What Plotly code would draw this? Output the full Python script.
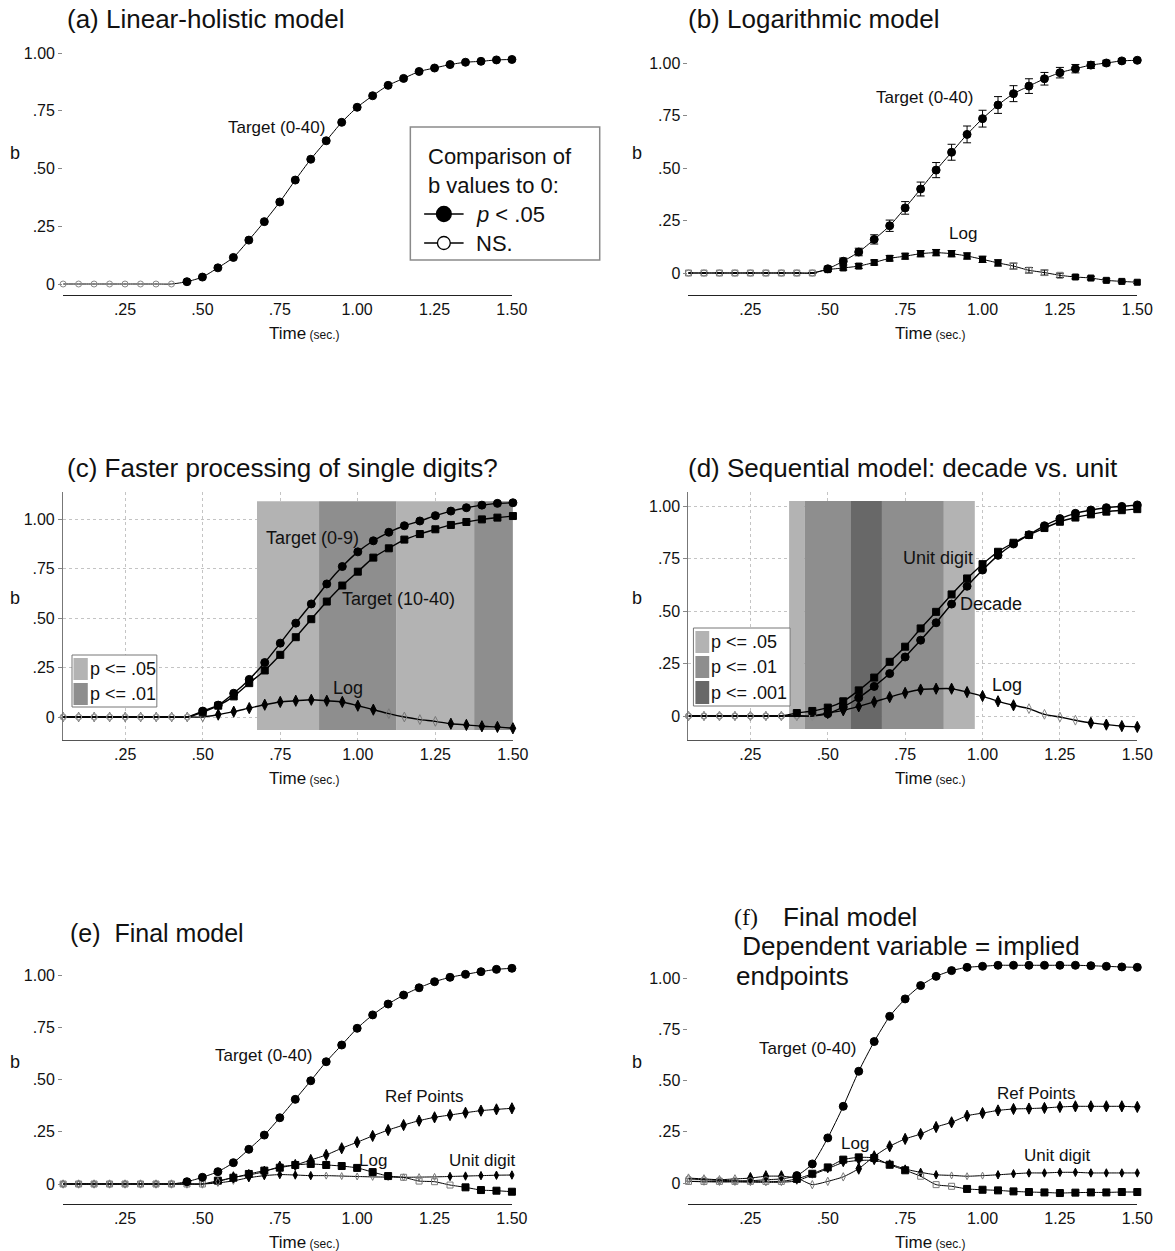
import plotly.graph_objects as go

W, H = 1175, 1251
FONT = "Liberation Sans, Arial, sans-serif"

# ---------------- data ----------------
TIME = [0.05, 0.10, 0.15, 0.20, 0.25, 0.30, 0.35, 0.40, 0.45, 0.50,
        0.55, 0.60, 0.65, 0.70, 0.75, 0.80, 0.85, 0.90, 0.95, 1.00,
        1.05, 1.10, 1.15, 1.20, 1.25, 1.30, 1.35, 1.40, 1.45, 1.50]
X_TICKS = [0.25, 0.50, 0.75, 1.00, 1.25, 1.50]
X_TICK_TEXT = [".25", ".50", ".75", "1.00", "1.25", "1.50"]
Y_TICKS = [0, 0.25, 0.50, 0.75, 1.00]
Y_TICK_TEXT = ["0", ".25", ".50", ".75", "1.00"]

# (a) Linear-holistic model
a_target = [0, 0, 0, 0, 0, 0, 0, 0, 0.01, 0.03, 0.07, 0.115, 0.19, 0.27, 0.355,
            0.45, 0.54, 0.62, 0.70, 0.765, 0.815, 0.86, 0.89, 0.92, 0.935, 0.95,
            0.96, 0.964, 0.97, 0.972]
a_target_sig = "000000001111111111111111111111"

# (b) Logarithmic model
b_target = [0, 0, 0, 0, 0, 0, 0, 0, 0, 0.02, 0.056, 0.10, 0.16, 0.225, 0.31, 0.40,
            0.49, 0.575, 0.66, 0.735, 0.80, 0.854, 0.89, 0.925, 0.954, 0.973, 0.99,
            1.0, 1.01, 1.013]
b_target_err = [0, 0, 0, 0, 0, 0, 0, 0, 0, 0.012, 0.015, 0.018, 0.022, 0.027, 0.03,
                0.033, 0.036, 0.038, 0.04, 0.04, 0.04, 0.038, 0.035, 0.03, 0.025,
                0.02, 0.016, 0.013, 0.01, 0.008]
b_target_sig = "000000000111111111111111111111"
b_log = [0, 0, 0, 0, 0, 0, 0, 0, 0, 0.016, 0.024, 0.033, 0.05, 0.07, 0.08, 0.092,
         0.097, 0.092, 0.081, 0.065, 0.048, 0.033, 0.013, 0.002, -0.011, -0.019,
         -0.024, -0.035, -0.04, -0.044]
b_log_err = [0, 0, 0, 0, 0, 0, 0, 0, 0, 0.008, 0.01, 0.012, 0.012, 0.013, 0.014,
             0.015, 0.015, 0.015, 0.015, 0.015, 0.015, 0.014, 0.013, 0.012, 0.01,
             0.009, 0.008, 0.007, 0.006, 0.006]
b_log_sig = "000000000111111111111000011111"

# (c) Faster processing of single digits?
c_t09 = [0, 0, 0, 0, 0, 0, 0, 0, 0, 0.03, 0.06, 0.12, 0.19, 0.275, 0.373, 0.474,
         0.571, 0.672, 0.76, 0.834, 0.89, 0.933, 0.966, 0.99, 1.017, 1.04, 1.057,
         1.07, 1.079, 1.082]
c_t09_sig = "000000000111111111111111111111"
c_t1040 = [0, 0, 0, 0, 0, 0, 0, 0, 0, 0.024, 0.057, 0.104, 0.171, 0.235, 0.314,
           0.403, 0.494, 0.583, 0.664, 0.734, 0.805, 0.852, 0.896, 0.924, 0.948,
           0.97, 0.985, 0.998, 1.007, 1.015]
c_t1040_sig = "000000000111111111111111111111"
c_log = [0, 0, 0, 0, 0, 0, 0, 0, 0, 0, 0.012, 0.027, 0.045, 0.062, 0.076, 0.082,
         0.087, 0.082, 0.076, 0.057, 0.037, 0.017, 0, -0.013, -0.022, -0.034,
         -0.04, -0.047, -0.05, -0.057]
c_log_sig = "000000000011111111111000011111"
c_bands = [(0.675, 0.875, "p05"), (0.875, 1.125, "p01"),
           (1.125, 1.375, "p05"), (1.375, 1.50, "p01")]

# (d) Sequential model: decade vs. unit
d_unit = [0, 0, 0, 0, 0, 0, 0, 0.014, 0.024, 0.04, 0.07, 0.122, 0.183, 0.258, 0.33,
          0.417, 0.496, 0.579, 0.655, 0.723, 0.782, 0.825, 0.862, 0.895, 0.925,
          0.945, 0.96, 0.973, 0.98, 0.985]
d_unit_sig = "000000011111111111111111111111"
d_decade = [0, 0, 0, 0, 0, 0, 0, 0, 0, 0.011, 0.043, 0.087, 0.141, 0.202, 0.281,
            0.361, 0.444, 0.533, 0.618, 0.695, 0.765, 0.819, 0.863, 0.906, 0.94,
            0.965, 0.981, 0.992, 0.998, 1.005]
d_decade_sig = "000000000111111111111111111111"
d_log = [0, 0, 0, 0, 0, 0, 0, 0, 0, 0.014, 0.027, 0.046, 0.067, 0.09, 0.11, 0.126,
         0.13, 0.13, 0.114, 0.095, 0.07, 0.051, 0.035, 0.008, -0.005, -0.02,
         -0.033, -0.041, -0.048, -0.052]
d_log_sig = "000000000111111111111100001111"
d_bands = [(0.375, 0.425, "p05"), (0.425, 0.575, "p01"), (0.575, 0.675, "p001"),
           (0.675, 0.875, "p01"), (0.875, 0.975, "p05")]

# (e) Final model
e_target = [0, 0, 0, 0, 0, 0, 0, 0, 0.011, 0.032, 0.059, 0.102, 0.166, 0.234,
            0.317, 0.405, 0.494, 0.585, 0.665, 0.745, 0.809, 0.861, 0.904, 0.939,
            0.968, 0.989, 1.003, 1.016, 1.027, 1.032]
e_target_sig = "000000001111111111111111111111"
e_ref = [0, 0, 0, 0, 0, 0, 0, 0, 0, 0, 0.011, 0.032, 0.043, 0.059, 0.083, 0.091,
         0.115, 0.139, 0.171, 0.2, 0.23, 0.258, 0.282, 0.303, 0.319, 0.33, 0.341,
         0.351, 0.357, 0.362]
e_ref_sig = "000000000001111111111111111111"
e_log = [0, 0, 0, 0, 0, 0, 0, 0, 0, 0, 0.016, 0.03, 0.048, 0.064, 0.078, 0.091,
         0.096, 0.091, 0.086, 0.077, 0.057, 0.038, 0.032, 0.014, 0.011, -0.005,
         -0.016, -0.029, -0.032, -0.037]
e_log_sig = "000000000011111111111100001111"
e_unit = [0, 0, 0, 0, 0, 0, 0, 0, 0, 0, 0.005, 0.015, 0.03, 0.04, 0.045, 0.043,
          0.04, 0.04, 0.038, 0.036, 0.034, 0.033, 0.032, 0.033, 0.034, 0.036,
          0.038, 0.04, 0.042, 0.043]
e_unit_sig = "000000000000111110000000011111"

# (f) Final model, DV = implied endpoints
f_target = [0.02, 0.016, 0.013, 0.011, 0.011, 0.016, 0.02, 0.036, 0.093, 0.22,
            0.374, 0.545, 0.69, 0.813, 0.898, 0.963, 1.008, 1.036, 1.052, 1.057,
            1.062, 1.062, 1.062, 1.062, 1.062, 1.062, 1.06, 1.057, 1.054, 1.052]
f_target_sig = "000000011111111111111111111111"
f_ref = [0.024, 0.02, 0.016, 0.02, 0.024, 0.033, 0.033, 0.024, -0.008, 0.008, 0.03,
         0.07, 0.13, 0.179, 0.215, 0.239, 0.273, 0.296, 0.328, 0.341, 0.354, 0.361,
         0.363, 0.366, 0.371, 0.374, 0.374, 0.374, 0.374, 0.371]
f_ref_sig = "000011110001111111111111111111"
f_log = [0.008, 0.008, 0.008, 0.008, 0.008, 0.008, 0.008, 0.02, 0.045, 0.076, 0.114,
         0.125, 0.122, 0.089, 0.062, 0.033, -0.008, -0.016, -0.029, -0.033, -0.036,
         -0.041, -0.044, -0.046, -0.049, -0.047, -0.046, -0.046, -0.044, -0.044]
f_log_sig = "000000011111111000111111111111"
f_unit = [0.008, 0.006, 0.005, 0.005, 0.004, 0.003, 0.004, 0.01, 0.04, 0.07, 0.10,
          0.11, 0.11, 0.093, 0.068, 0.052, 0.04, 0.037, 0.033, 0.036, 0.04, 0.045,
          0.049, 0.049, 0.052, 0.052, 0.049, 0.049, 0.049, 0.049]
f_unit_sig = "000000000111111110001111111111"

# ---------------- layout geometry (pixels) ----------------
# xl, xr, y-pixel of 0, y-pixel of 1, y-pixel of bottom axis, top value
PANELS = {
    1: dict(xl=64, xr=519, y0=284, y1=53, yb=295, ytop=1.05, grid=False),
    2: dict(xl=698, xr=1153, y0=273, y1=63, yb=295, ytop=1.07, grid=False),
    3: dict(xl=64, xr=520, y0=717, y1=519, yb=740, ytop=1.136, grid=True),
    4: dict(xl=698, xr=1153, y0=716, y1=506, yb=740, ytop=1.067, grid=True),
    5: dict(xl=64, xr=519, y0=1184, y1=975, yb=1204, ytop=1.10, grid=False),
    6: dict(xl=698, xr=1153, y0=1183, y1=978, yb=1204, ytop=1.10, grid=False),
}
BAND_COLORS = {"p05": "#b3b3b3", "p01": "#8e8e8e", "p001": "#686868"}


def fx(px):
    return px / W


def fy(py):
    return 1 - py / H


fig = go.Figure()
layout = dict(width=W, height=H, margin=dict(l=0, r=0, t=0, b=0),
              paper_bgcolor="white", plot_bgcolor="rgba(0,0,0,0)",
              font=dict(family=FONT, color="#111"), showlegend=False)

for i, p in PANELS.items():
    k = p["y0"] - p["y1"]
    ymin = -(p["yb"] - p["y0"]) / k
    ytop_px = p["y0"] - p["ytop"] * k
    sx = "" if i == 1 else str(i)
    grid = p["grid"]
    layout["xaxis" + sx] = dict(
        domain=[fx(p["xl"]), fx(p["xr"])], range=[0.05, 1.5], anchor="y" + sx,
        tickvals=X_TICKS, ticktext=X_TICK_TEXT, tickfont=dict(size=16, family=FONT),
        showline=True, linecolor="#222" if not grid else "#555", linewidth=1.3,
        ticks="", zeroline=False, showgrid=grid, gridcolor="#c4c4c4",
        griddash="dot", gridwidth=1, fixedrange=True)
    layout["yaxis" + sx] = dict(
        domain=[fy(p["yb"]), fy(ytop_px)], range=[ymin, p["ytop"]], anchor="x" + sx,
        tickvals=Y_TICKS, ticktext=Y_TICK_TEXT, tickfont=dict(size=16, family=FONT),
        ticks="outside", ticklen=4, tickcolor="#888", tickwidth=1,
        showline=grid, linecolor="#777", linewidth=1.3, zeroline=False,
        showgrid=grid, gridcolor="#c4c4c4", griddash="dot", gridwidth=1,
        fixedrange=True)
fig.update_layout(**layout)


def series(ax, y, flags, sym, size, ns_sym="circle-open", ns_size=6,
           ns_color="#7a7a7a", err=None, lw=1.0):
    sx = "" if ax == 1 else str(ax)
    symbols = [sym if f == "1" else ns_sym for f in flags]
    colors = ["black" if f == "1" else ns_color for f in flags]
    sizes = [size if f == "1" else ns_size for f in flags]
    kw = {}
    if err is not None:
        kw["error_y"] = dict(type="data", array=err, visible=True, color="black",
                             thickness=1, width=4)
    fig.add_trace(go.Scatter(
        x=TIME, y=y, xaxis="x" + sx, yaxis="y" + sx, mode="lines+markers",
        line=dict(color="black", width=lw, shape="spline", smoothing=0.6),
        marker=dict(symbol=symbols, color=colors, size=sizes, opacity=1,
                    line=dict(color=colors, width=1)),
        cliponaxis=False, hoverinfo="skip", **kw))


# bands (c), (d)
shapes = []
for ax, bands, yb0, yb1 in [(3, c_bands, -0.066, 1.09), (4, d_bands, -0.062, 1.024)]:
    for x0, x1, lvl in bands:
        shapes.append(dict(type="rect", xref="x%d" % ax, yref="y%d" % ax,
                           x0=x0, x1=x1, y0=yb0, y1=yb1, layer="between",
                           fillcolor=BAND_COLORS[lvl], line=dict(width=0)))

# (a)
series(1, a_target, a_target_sig, "circle", 8, ns_color="#888")
# (b)
series(2, b_log, b_log_sig, "square", 6, ns_sym="square-open", err=b_log_err)
series(2, b_target, b_target_sig, "circle", 8, err=b_target_err)
# (c)
series(3, c_log, c_log_sig, "diamond-tall", 8, ns_sym="diamond-tall-open", ns_size=7,
       ns_color="#777", lw=1.4)
series(3, c_t1040, c_t1040_sig, "square", 7, ns_color="#999", lw=1.4)
series(3, c_t09, c_t09_sig, "circle", 8, ns_color="#999", lw=1.4)
# (d)
series(4, d_log, d_log_sig, "diamond-tall", 8, ns_sym="diamond-tall-open", ns_size=7,
       ns_color="#888", lw=1.4)
series(4, d_decade, d_decade_sig, "circle", 8, ns_color="#888", lw=1.4)
series(4, d_unit, d_unit_sig, "square", 7, ns_color="#888", lw=1.4)
# (e)
series(5, e_unit, e_unit_sig, "diamond-tall", 6, ns_sym="diamond-tall-open", ns_size=5)
series(5, e_log, e_log_sig, "square", 7, ns_sym="square-open")
series(5, e_ref, e_ref_sig, "diamond-tall", 8, ns_sym="diamond-tall-open")
series(5, e_target, e_target_sig, "circle", 8)
# (f)
series(6, f_unit, f_unit_sig, "diamond-tall", 6, ns_sym="diamond-tall-open", ns_size=5)
series(6, f_log, f_log_sig, "square", 7, ns_sym="square-open")
series(6, f_ref, f_ref_sig, "diamond-tall", 8, ns_sym="diamond-tall-open")
series(6, f_target, f_target_sig, "circle", 8)

annotations = []


def ann(text, x, y, size=18, xanchor="center", family=FONT, color="#111"):
    annotations.append(dict(text=text, x=fx(x), y=fy(y), xref="paper", yref="paper",
                            xanchor=xanchor, yanchor="middle", showarrow=False,
                            font=dict(size=size, family=family, color=color)))


# titles
ann("(a) Linear-holistic model", 66, 19, 26, "left")
ann("(b) Logarithmic model", 695, 19, 26, "left")
ann("(c) Faster processing of single digits?", 66, 468, 26, "left")
ann("(d) Sequential model: decade vs. unit", 695, 468, 26, "left")
ann("(e)  Final model", 69, 933, 25, "left")
ann("(f)", 742, 917, 24, "left", family="Liberation Serif, Times New Roman, serif")
ann("Final model", 792, 917, 26, "left")
ann(" Dependent variable = implied", 743, 946, 26, "left")
ann("endpoints", 744, 976, 26, "left")

# axis titles
for bx, by in [(15, 153), (646, 153), (15, 598), (646, 598), (15, 1062), (646, 1062)]:
    ann("b", bx, by, 18)
TIME_TITLE = "Time<span style='font-size:12px'> (sec.)</span>"
for tx, ty in [(309, 333), (943, 333), (309, 778), (943, 778), (309, 1242), (943, 1242)]:
    ann(TIME_TITLE, tx, ty, 17)

# curve labels
ann("Target (0-40)", 280, 127, 17)
ann("Target (0-40)", 937, 97, 17)
ann("Log", 976, 234, 17)
ann("Target (0-9)", 317, 538, 18)
ann("Target (10-40)", 404, 599, 18)
ann("Log", 353, 688, 18)
ann("Unit digit", 951, 558, 18)
ann("Decade", 1005, 604, 18)
ann("Log", 1021, 685, 18)
ann("Target (0-40)", 267, 1055, 17)
ann("Ref Points", 430, 1096, 17)
ann("Log", 378, 1160, 17)
ann("Unit digit", 489, 1160, 17)
ann("Target (0-40)", 819, 1048, 17)
ann("Ref Points", 1050, 1093, 17)
ann("Log", 867, 1143, 17)
ann("Unit digit", 1072, 1155, 17)

# legend (a)
def pshape(**kw):
    d = dict(xref="paper", yref="paper", layer="above")
    d.update(kw)
    shapes.append(d)


pshape(type="rect", x0=fx(416), x1=fx(608), y0=fy(260), y1=fy(127),
       line=dict(color="#8a8a8a", width=1.5), fillcolor="white")
ann("Comparison of", 432, 157, 22, "left")
ann("b values to 0:", 432, 186, 22, "left")
for ly, filled, label in [(214, True, "<i>p</i> < .05"), (243, False, "NS.")]:
    pshape(type="line", x0=fx(430), x1=fx(470), y0=fy(ly), y1=fy(ly),
           line=dict(color="black", width=1.5))
    r = 7.5 if filled else 6.5
    pshape(type="circle", x0=fx(450 - r), x1=fx(450 + r), y0=fy(ly + r), y1=fy(ly - r),
           line=dict(color="black", width=1.3),
           fillcolor="black" if filled else "white")
    ann(label, 481, ly, 22, "left")

# legend (c)
pshape(type="rect", x0=fx(73), x1=fx(159), y0=fy(707), y1=fy(655),
       line=dict(color="#777", width=1), fillcolor="white")
for (sy0, sy1, lvl, label) in [(658, 680, "p05", "p <= .05"), (683, 705, "p01", "p <= .01")]:
    pshape(type="rect", x0=fx(74.5), x1=fx(89), y0=fy(sy1), y1=fy(sy0),
           line=dict(width=0), fillcolor=BAND_COLORS[lvl])
    ann(label, 89, (sy0 + sy1) / 2, 18, "left")

# legend (d)
pshape(type="rect", x0=fx(703), x1=fx(801), y0=fy(706), y1=fy(628),
       line=dict(color="#777", width=1), fillcolor="white")
for (sy0, sy1, lvl, label) in [(631, 653, "p05", "p <= .05"), (656, 678, "p01", "p <= .01"),
                               (681, 704, "p001", "p <= .001")]:
    pshape(type="rect", x0=fx(705), x1=fx(719), y0=fy(sy1), y1=fy(sy0),
           line=dict(width=0), fillcolor=BAND_COLORS[lvl])
    ann(label, 719, (sy0 + sy1) / 2, 18, "left")

fig.update_layout(shapes=shapes, annotations=annotations)
fig.write_html("out.html")
